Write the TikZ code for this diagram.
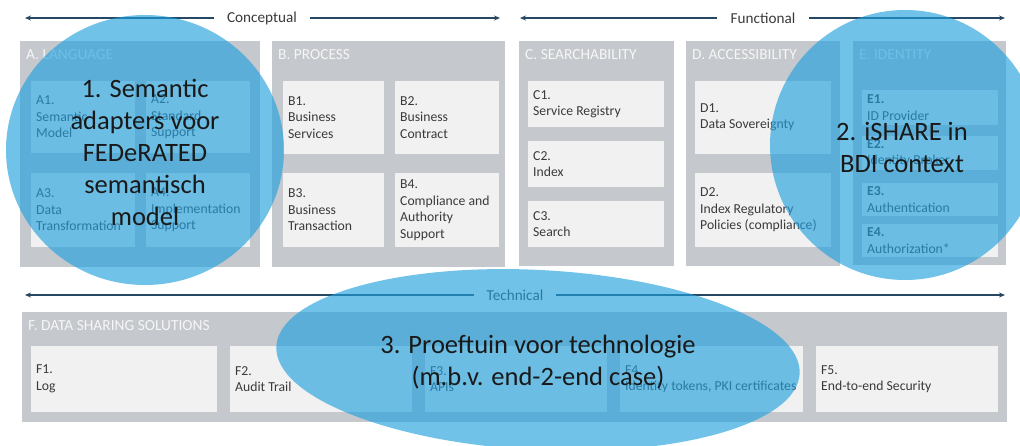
\documentclass[tikz,border=0pt]{standalone}
\usepackage{fontspec}
\setmainfont{Carlito}
\usetikzlibrary{arrows.meta,shapes.geometric,fit}
\definecolor{panelc}{RGB}{197,200,204}
\definecolor{cellc}{RGB}{241,241,241}
\definecolor{ink}{RGB}{58,58,58}
\definecolor{headc}{RGB}{246,246,246}
\definecolor{arrowc}{RGB}{38,72,100}
\definecolor{bubblec}{RGB}{32,160,222}
\definecolor{bigink}{RGB}{25,25,25}
\newcommand\cellbox[6]{%
  \node[cellrect, fit={(#2,#3) (#4,#5)}] (#1) {};
  \node[celltext] (#1t) at ([xshift=5pt]#1.west) {#6};}
\newcommand\panelbox[6]{%
  \node[panelrect, fit={(#2,#3) (#4,#5)}] (#1) {};
  \node[head] (#1h) at ([xshift=6pt,yshift=-14pt]#1.north west) {#6};}
\begin{document}
\begin{tikzpicture}[x=1pt,y=-1pt,
  panelrect/.style={fill=panelc,draw=none,inner sep=0pt,outer sep=0pt},
  cellrect/.style={fill=cellc,draw=none,inner sep=0pt,outer sep=0pt},
  head/.style={anchor=west,inner sep=0pt,text=headc,font=\fontsize{15.4}{18}\selectfont},
  celltext/.style={anchor=west,inner sep=0pt,text=ink,align=left,font=\fontsize{13.7}{16.5}\selectfont},
  axislabel/.style={fill=white,text=ink,inner xsep=13pt,inner ysep=4pt,font=\fontsize{15.2}{18}\selectfont},
  axis/.style={draw=arrowc,line width=1.3pt,-{Stealth[length=6pt,width=5pt]}},
  bubble/.style={ellipse,fill=bubblec,fill opacity=0.64,draw=none,inner sep=0pt},
  bubbletext/.style={align=center,text=bigink,inner sep=0pt,font=\fontsize{26.5}{32}\selectfont}]
\useasboundingbox (0,0) rectangle (1020,445);
\clip (0,0) rectangle (1020,445);
\fill[white] (0,0) rectangle (1020,445);

% panels
\panelbox{A}{20}{41}{260}{267}{A. LANGUAGE}
\panelbox{B}{272}{41}{505}{267}{B. PROCESS}
\panelbox{C}{519}{41}{674}{266}{C. SEARCHABILITY}
\panelbox{D}{686}{41}{840}{266}{D. ACCESSIBILITY}
\panelbox{E}{853}{41}{1006}{265}{E. IDENTITY}
\panelbox{F}{22}{312}{1007}{422}{F. DATA SHARING SOLUTIONS}

% cells
\cellbox{A1}{31}{81}{135}{153}{A1.\\Semantic\\Model}
\cellbox{A2}{146}{81}{250}{153}{A2.\\Standard\\Support}
\cellbox{A3}{31}{173}{135}{247}{A3.\\Data\\Transformation}
\cellbox{A4}{146}{173}{250}{247}{A4.\\Implementation\\Support}
\cellbox{B1}{283}{81}{384}{154}{B1.\\Business\\Services}
\cellbox{B2}{395}{81}{499}{154}{B2.\\Business\\Contract}
\cellbox{B3}{283}{173}{384}{247}{B3.\\Business\\Transaction}
\cellbox{B4}{395}{173}{499}{247}{B4.\\Compliance and\\Authority\\Support}
\cellbox{C1}{528}{81}{664}{127}{C1.\\Service Registry}
\cellbox{C2}{528}{141}{664}{187}{C2.\\Index}
\cellbox{C3}{528}{201}{664}{247}{C3.\\Search}
\cellbox{D1}{695}{81}{831}{154}{D1.\\Data Sovereignty}
\cellbox{D2}{695}{173}{831}{247}{D2.\\Index Regulatory\\Policies (compliance)}
\cellbox{E1}{862}{90}{998}{125}{\textbf{E1.}\\ID Provider}
\cellbox{E2}{862}{136}{998}{170}{\textbf{E2.}\\Identity Broker}
\cellbox{E3}{862}{183}{998}{216}{\textbf{E3.}\\Authentication}
\cellbox{E4}{862}{224}{998}{257}{\textbf{E4.}\\Authorization*}
\cellbox{F1}{31}{346}{217}{412}{F1.\\Log}
\cellbox{F2}{230}{346}{412}{412}{F2.\\Audit Trail}
\cellbox{F3}{425}{346}{607}{412}{F3.\\APIs}
\cellbox{F4}{620}{346}{803}{412}{F4.\\Identity tokens, PKI certificates}
\cellbox{F5}{816}{346}{998}{412}{F5.\\End-to-end Security}

% axes
\node[axislabel] (conc) at (262,18) {Conceptual};
\coordinate (concL) at (25,18);
\coordinate (concR) at (500,18);
\draw[axis] (conc) -- (concL);
\draw[axis] (conc) -- (concR);
\node[axislabel] (func) at (763,18) {Functional};
\coordinate (funcL) at (520,18);
\coordinate (funcR) at (1005,18);
\draw[axis] (func) -- (funcL);
\draw[axis] (func) -- (funcR);
\node[axislabel] (tech) at (515,295) {Technical};
\coordinate (techL) at (25,295);
\coordinate (techR) at (1005,295);
\draw[axis] (tech) -- (techL);
\draw[axis] (tech) -- (techR);

% bubbles
\node[bubble, minimum width=278pt, minimum height=270pt] (S1) at (145,150) {};
\node[bubbletext] (S1t) at (145,152) {1. Semantic\\adapters voor\\FEDeRATED\\semantisch\\model};
\node[bubble, minimum width=270pt, minimum height=270pt] (S2) at (905,145) {};
\node[bubbletext] (S2t) at (902,147) {2. iSHARE in\\BDI context};
\node[bubble, minimum width=524pt, minimum height=180pt, rotate=-3] (S3) at (538,360) {};
\node[bubbletext] (S3t) at (538,362) {3. Proeftuin voor technologie\\(m.b.v. end-2-end case)};
\end{tikzpicture}
\end{document}
